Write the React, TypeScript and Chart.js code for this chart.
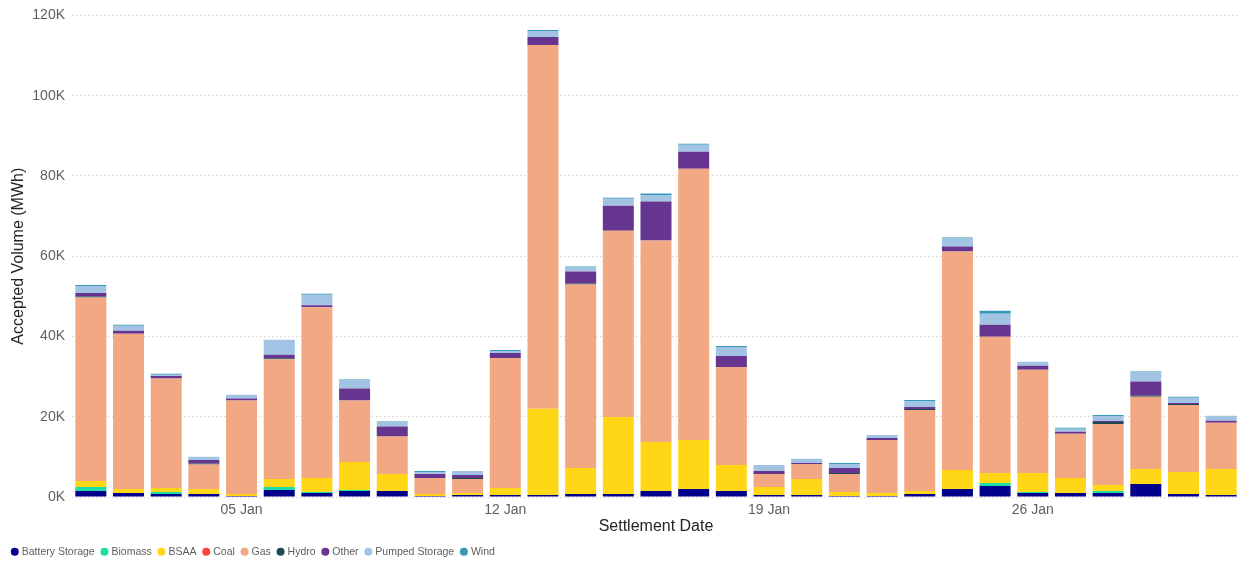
import React, { useEffect, useRef } from "react";
import { Chart, registerables } from "chart.js";

Chart.register(...registerables);

const dates = [
  "01 Jan", "02 Jan", "03 Jan", "04 Jan", "05 Jan", "06 Jan", "07 Jan", "08 Jan", "09 Jan", "10 Jan",
  "11 Jan", "12 Jan", "13 Jan", "14 Jan", "15 Jan", "16 Jan", "17 Jan", "18 Jan", "19 Jan", "20 Jan",
  "21 Jan", "22 Jan", "23 Jan", "24 Jan", "25 Jan", "26 Jan", "27 Jan", "28 Jan", "29 Jan", "30 Jan", "31 Jan",
];
const shownTicks = ["05 Jan", "12 Jan", "19 Jan", "26 Jan"];

const batteryStorage = [1500, 1000, 750, 750, 250, 1750, 1000, 1500, 1500, 250, 500, 500, 500, 750, 750, 1500, 2000, 1500, 500, 500, 250, 250, 750, 2000, 2750, 1000, 1000, 1000, 3250, 750, 500];
const biomass = [1000, 0, 500, 0, 0, 750, 250, 250, 0, 0, 0, 0, 0, 0, 0, 0, 0, 0, 0, 0, 0, 0, 0, 0, 750, 250, 0, 500, 0, 0, 0];
const bsaa = [1500, 1000, 1000, 1250, 500, 2000, 3500, 7000, 4250, 500, 500, 1750, 21500, 6500, 19200, 12200, 12200, 6500, 2000, 4000, 1000, 750, 750, 4750, 2500, 4750, 3750, 1500, 3750, 5500, 6500];
const coal = [0, 0, 0, 0, 0, 0, 0, 0, 0, 0, 0, 0, 0, 0, 0, 0, 0, 0, 0, 0, 0, 0, 0, 0, 0, 0, 0, 0, 0, 0, 0];
const gas = [45700, 38700, 27300, 6100, 23300, 29800, 42500, 15300, 9300, 4000, 3500, 32400, 90600, 45700, 46400, 50200, 67600, 24400, 3250, 3750, 4500, 13200, 20200, 54400, 33900, 25700, 11000, 15200, 18000, 16700, 11500];
const hydro = [250, 0, 0, 250, 0, 250, 0, 0, 0, 0, 250, 0, 0, 250, 0, 0, 0, 0, 0, 0, 250, 0, 250, 0, 0, 0, 0, 500, 250, 250, 0];
const other = [900, 700, 600, 900, 500, 900, 500, 3000, 2500, 1000, 750, 1250, 2000, 3000, 6200, 9700, 4250, 2750, 750, 250, 1250, 500, 500, 1250, 3000, 1000, 500, 250, 3500, 250, 500];
const pumpedStorage = [1750, 1250, 300, 750, 900, 3750, 2650, 2000, 1000, 500, 1000, 500, 1500, 1000, 1750, 1500, 1750, 2250, 1500, 1000, 1000, 750, 1500, 2000, 2750, 1000, 750, 1250, 2250, 1250, 1250];
const wind = [250, 250, 250, 0, 0, 0, 250, 250, 250, 250, 0, 250, 250, 250, 250, 500, 250, 250, 0, 0, 250, 0, 250, 250, 750, 0, 250, 250, 250, 250, 0];

const seriesNames = ["Battery Storage", "Biomass", "BSAA", "Coal", "Gas", "Hydro", "Other", "Pumped Storage", "Wind"];
const seriesValues = [batteryStorage, biomass, bsaa, coal, gas, hydro, other, pumpedStorage, wind];
const seriesColors = ["#01008B", "#1FDCA6", "#FFD716", "#FF4343", "#F2A883", "#1C4B52", "#66358F", "#A3C3E5", "#3599B8"];

const yTickValues = [0, 20000, 40000, 60000, 80000, 100000, 120000];

const FONT = "'Liberation Sans', Arial, sans-serif";

export default function App() {
  const ref = useRef<HTMLCanvasElement | null>(null);

  useEffect(() => {
    if (!ref.current) return;
    const chart = new Chart(ref.current, {
      type: "bar",
      data: {
        labels: dates,
        datasets: seriesNames.map((name, i) => ({
          label: name,
          data: seriesValues[i],
          backgroundColor: seriesColors[i],
          borderWidth: 0,
          barPercentage: 1,
          categoryPercentage: 0.823,
        })),
      },
      options: {
        responsive: false,
        animation: false,
        layout: { padding: { left: 5, right: 6, top: 15, bottom: 0 } },
        plugins: {
          tooltip: { enabled: false },
          legend: {
            position: "bottom",
            align: "start",
            labels: {
              usePointStyle: true,
              pointStyle: "circle",
              boxWidth: 3.5,
              boxHeight: 5.66,
              padding: 8,
              color: "#605E5C",
              font: { family: FONT, size: 10.5 },
            },
          },
        },
        scales: {
          x: {
            stacked: true,
            grid: { display: false, drawTicks: false },
            border: { display: false },
            afterFit: (scale: any) => {
              scale.height = 41.5;
            },
            ticks: {
              autoSkip: false,
              maxRotation: 0,
              padding: 5,
              color: "#605E5C",
              font: { family: FONT, size: 14 },
              callback: function (_v: any, idx: number) {
                const l = dates[idx];
                return shownTicks.includes(l) ? l : "";
              },
            },
            title: {
              display: true,
              text: "Settlement Date",
              color: "#252423",
              font: { family: FONT, size: 16 },
              padding: { top: 2, bottom: 2 },
            },
          },
          y: {
            stacked: true,
            min: 0,
            max: 120000,
            afterBuildTicks: (scale: any) => {
              scale.ticks = yTickValues.map((v) => ({ value: v }));
            },
            afterFit: (scale: any) => {
              scale.width = 67;
            },
            grid: {
              color: "#D6D6D6",
              lineWidth: 1,
              drawTicks: false,
            },
            border: { display: false, dash: [1.5, 2.5] },
            ticks: {
              padding: 7,
              color: "#605E5C",
              font: { family: FONT, size: 14 },
              callback: (v: any) => `${Number(v) / 1000}K`,
            },
            title: {
              display: true,
              text: "Accepted Volume (MWh)",
              color: "#252423",
              font: { family: FONT, size: 16 },
              padding: { top: 4, bottom: 0 },
            },
          },
        },
      },
    });
    return () => chart.destroy();
  }, []);

  return (
    <div style={{ position: "fixed", left: 0, top: 0, width: 1246, height: 567, background: "#fff" }}>
      <canvas ref={ref} width={1246} height={567} />
    </div>
  );
}
